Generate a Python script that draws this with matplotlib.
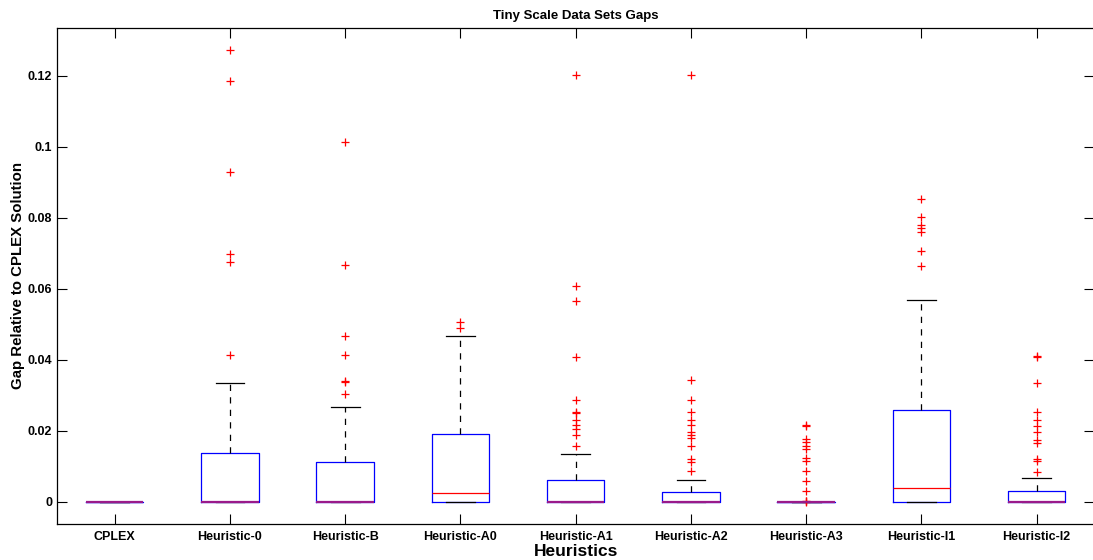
import matplotlib
matplotlib.use("Agg")
import matplotlib.pyplot as plt

# Gap relative to CPLEX for each heuristic on the tiny data sets
labels = ["CPLEX", "Heuristic-0", "Heuristic-B", "Heuristic-A0", "Heuristic-A1",
          "Heuristic-A2", "Heuristic-A3", "Heuristic-I1", "Heuristic-I2"]
q1 = [0, 0, 0, 0, 0, 0, 0, 0, 0]
med = [0, 0, 0, 0.00244, 0, 0, 0, 0.00404, 0]
q3 = [0, 0.0137, 0.0113, 0.0191, 0.0062, 0.0027, 0, 0.0258, 0.0032]
whislo = [0, 0, 0, 0, 0, 0, 0, 0, 0]
whishi = [0, 0.0336, 0.0268, 0.0466, 0.0134, 0.0063, 0, 0.0569, 0.0068]
fliers = [
    [],
    [0.0414, 0.0677, 0.0699, 0.0928, 0.1186, 0.1272],
    [0.0303, 0.0337, 0.0340, 0.0414, 0.0468, 0.0666, 0.1013],
    [0.0489, 0.0506],
    [0.0159, 0.0188, 0.0206, 0.0217, 0.0231, 0.0251, 0.0254, 0.0286,
     0.0407, 0.0566, 0.0609, 0.1203],
    [0.0087, 0.0113, 0.0121, 0.0158, 0.0181, 0.0189, 0.0197, 0.0217,
     0.0231, 0.0252, 0.0286, 0.0344, 0.1203],
    [0.0001, 0.0003, 0.0004, 0.0032, 0.0059, 0.0087, 0.0116, 0.0123,
     0.0149, 0.0158, 0.0168, 0.0178, 0.0214, 0.0217],
    [0.0665, 0.0708, 0.0761, 0.0771, 0.0781, 0.0803, 0.0852],
    [0.0083, 0.0114, 0.0122, 0.0167, 0.0175, 0.0197, 0.0214, 0.0231,
     0.0253, 0.0336, 0.0407, 0.0411],
]
yticks = [0, 0.02, 0.04, 0.06, 0.08, 0.1, 0.12]

plt.rcParams["font.family"] = ["Liberation Sans", "DejaVu Sans"]
plt.rcParams["font.weight"] = "bold"

stats = [dict(label=l, q1=a, med=m, q3=b, whislo=lo, whishi=hi, fliers=f)
         for l, a, m, b, lo, hi, f in zip(labels, q1, med, q3, whislo, whishi, fliers)]

fig = plt.figure(figsize=(10.93, 5.6), dpi=100)
ax = fig.add_axes([0.0522, 0.0643, 0.9490, 0.886])

bp = ax.bxp(stats, widths=0.5, showfliers=True,
            boxprops=dict(color="blue", linewidth=0.9),
            medianprops=dict(color="red", linewidth=0.9),
            whiskerprops=dict(color="black", linestyle=(0, (5, 5)), linewidth=0.9),
            capprops=dict(color="black", linewidth=0.9),
            flierprops=dict(marker="+", markeredgecolor="red", markersize=6,
                            markeredgewidth=0.9, linestyle="none"),
            capwidths=0.25)

# median sitting on the box edge blends to purple
for line, m, a in zip(bp["medians"], med, q1):
    if m == a:
        line.set_color("#9a1a8a")
        line.set_linewidth(1.6)

ax.set_xlim(0.5, 9.5)
ax.set_ylim(-0.0062, 0.1335)
ax.set_yticks(yticks)
ax.set_yticklabels([f"{t:g}" for t in yticks])
ax.tick_params(direction="in", top=True, right=True, length=7.3, width=0.8,
               labelsize=9)
ax.tick_params(axis="x", pad=5)
for s in ax.spines.values():
    s.set_linewidth(0.9)

ax.set_title("Tiny Scale Data Sets Gaps", fontsize=9.5, fontweight="bold", pad=6)
ax.set_xlabel("Heuristics", fontsize=12.5, fontweight="bold", labelpad=0.5)
ax.set_ylabel("Gap Relative to CPLEX Solution", fontsize=10.8, fontweight="bold",
              labelpad=2)

fig.savefig("out.png", dpi=100)
